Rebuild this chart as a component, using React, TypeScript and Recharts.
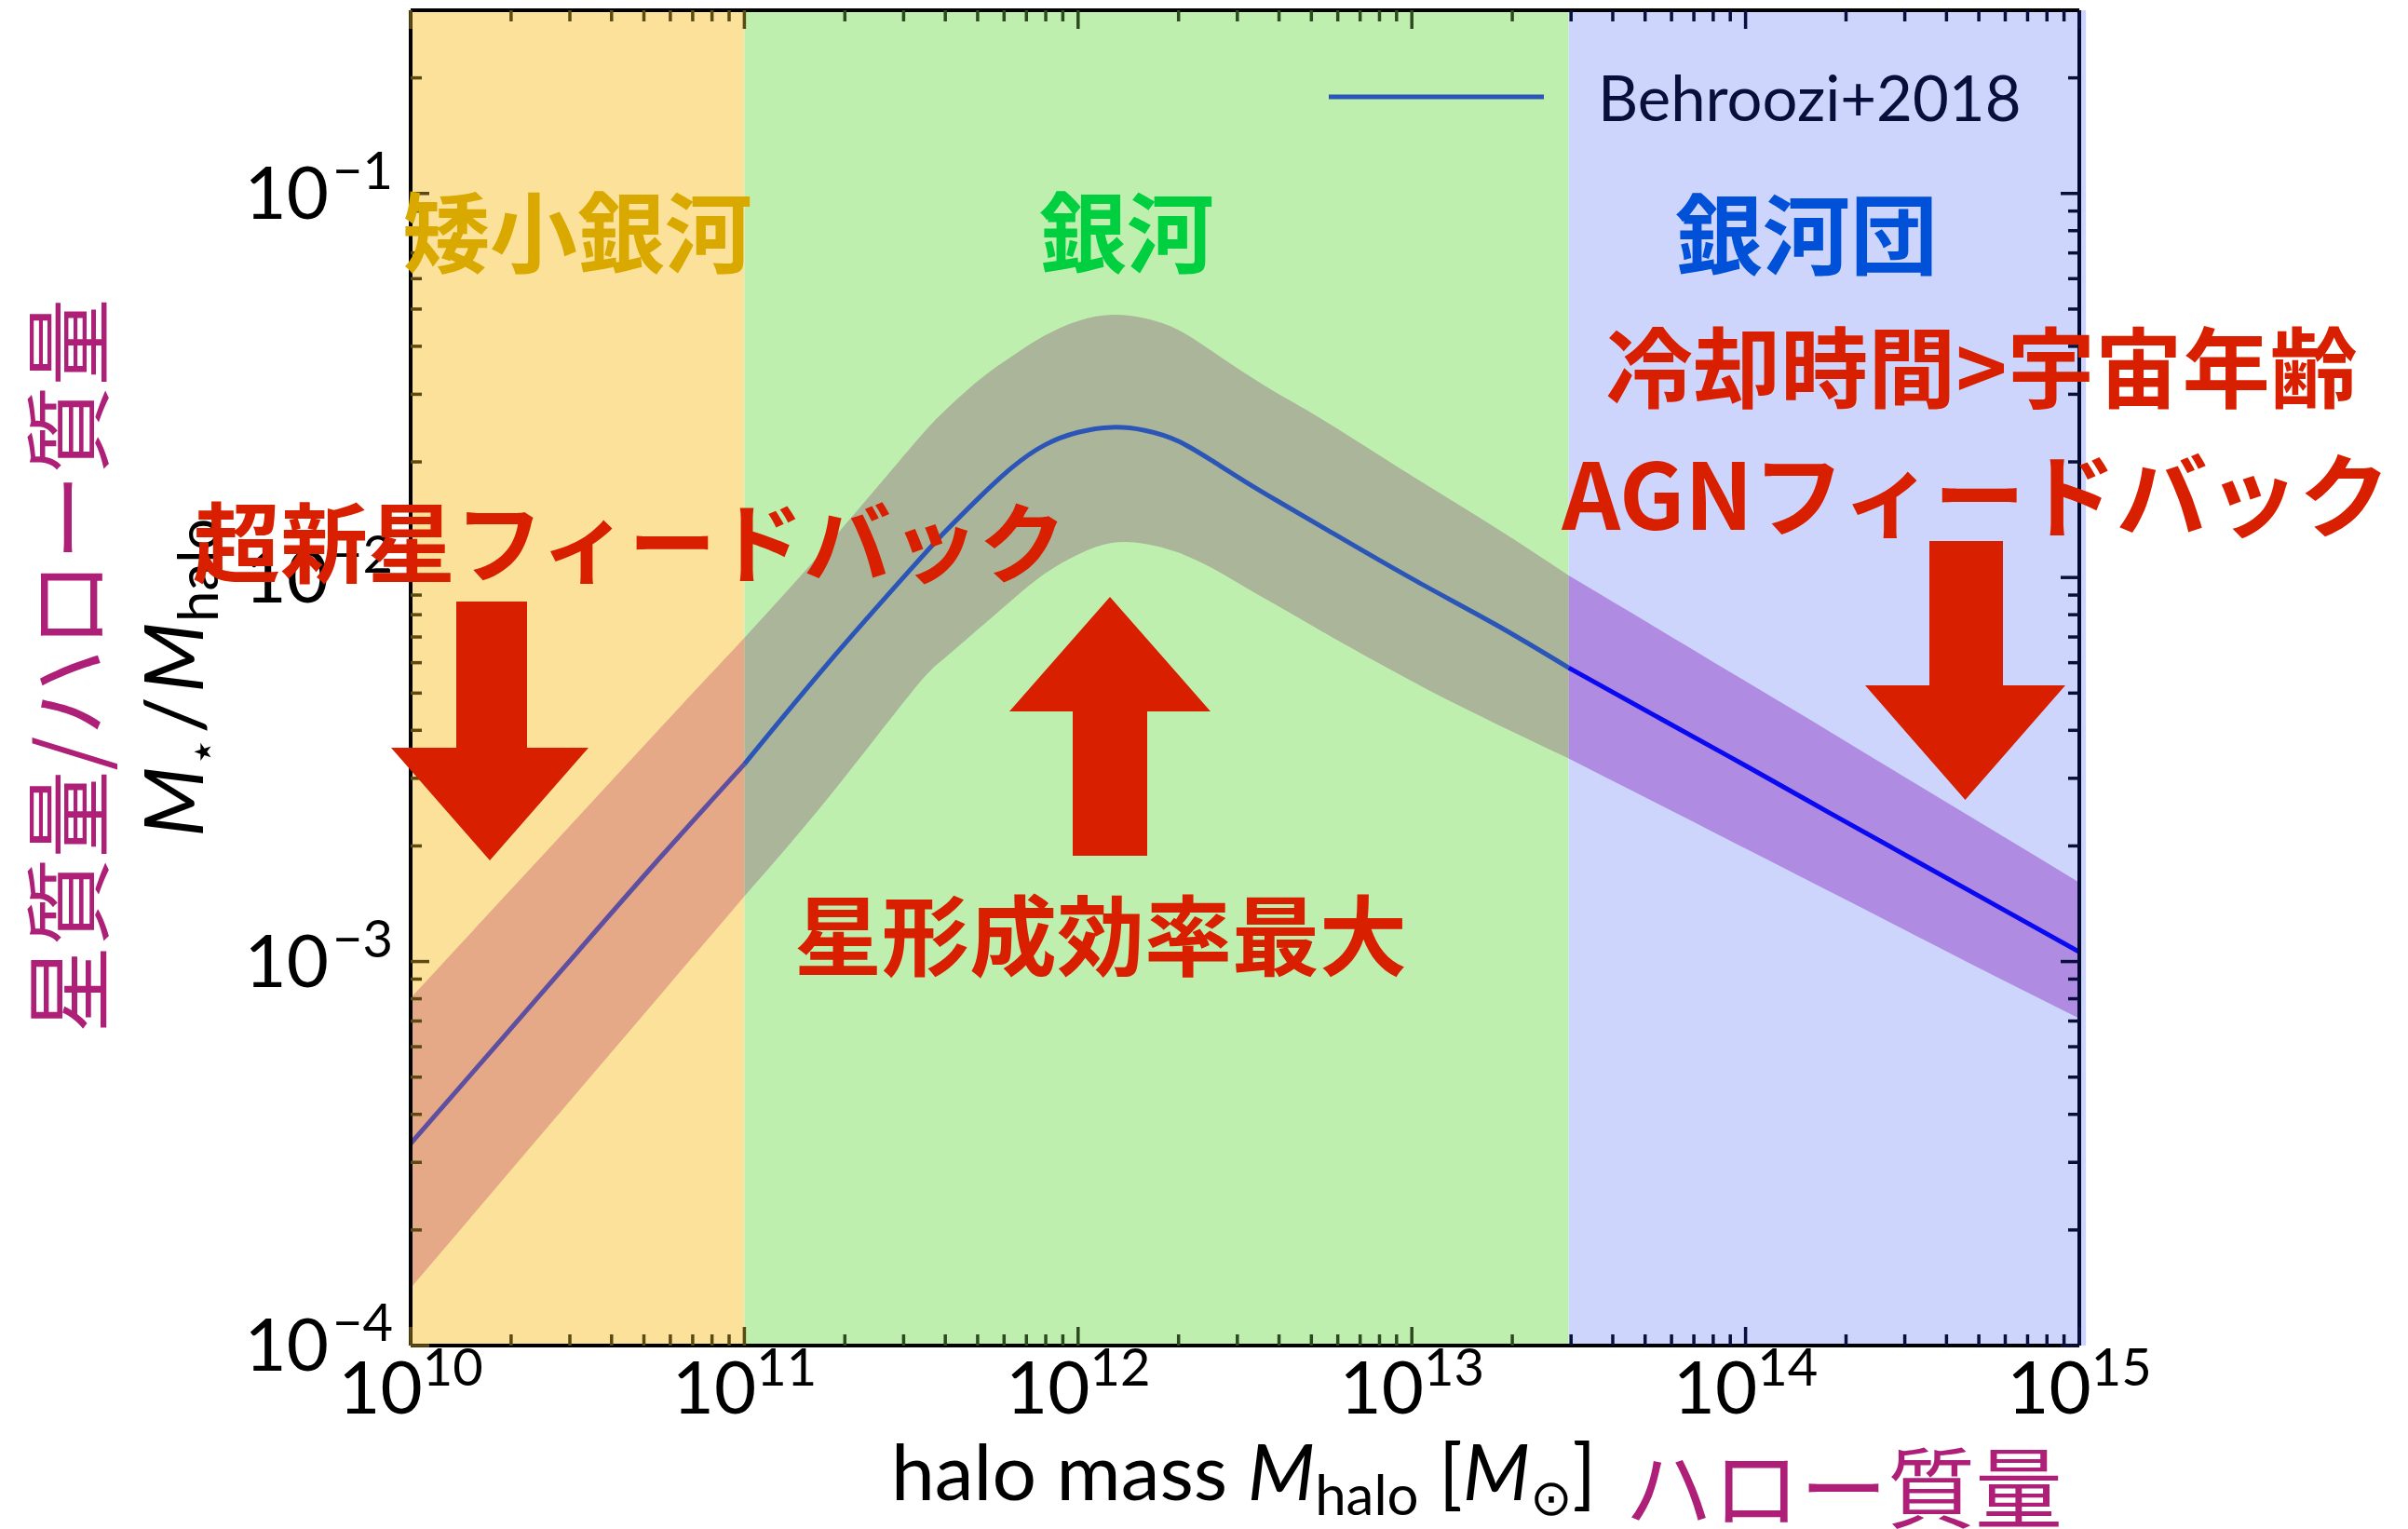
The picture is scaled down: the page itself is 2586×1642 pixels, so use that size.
import React from "react";
import { ComposedChart, Line, Area, XAxis, YAxis, ReferenceArea } from "recharts";

// 画面サイズとプロット領域
const W = 2586;
const H = 1642;
const PLOT_LEFT = 441;
const PLOT_RIGHT = 2233;
const PLOT_TOP = 11;
const PLOT_BOTTOM = 1445;
// 軸の太さ(1px)ぶんを差し引いたマージン
const MARGIN = { top: PLOT_TOP - 1, right: W - PLOT_RIGHT - 1, bottom: H - PLOT_BOTTOM - 1, left: PLOT_LEFT - 1 };

// log10(ハロー質量)
const logMass = [
  10.0, 10.25, 10.5, 10.75, 11.0, 11.25, 11.5, 11.6, 11.7, 11.8, 11.9, 12.0, 12.1, 12.2,
  12.3, 12.4, 12.5, 12.6, 12.75, 13.0, 13.25, 13.47, 13.75, 14.0, 14.25, 14.5, 14.75, 15.0,
];
// log10(M*/Mhalo) Behroozi+2018 中央値
const logRatio = [
  -3.474, -3.225, -2.975, -2.727, -2.486, -2.224, -1.977, -1.882, -1.795, -1.715, -1.655, -1.622,
  -1.609, -1.617, -1.645, -1.695, -1.75, -1.802, -1.878, -2.003, -2.122, -2.235, -2.37, -2.49,
  -2.612, -2.733, -2.854, -2.975,
];
// 上限・下限
const logUpper = [
  -3.095, -2.86, -2.625, -2.39, -2.157, -1.915, -1.66, -1.566, -1.488, -1.425, -1.37, -1.332,
  -1.316, -1.325, -1.355, -1.41, -1.468, -1.522, -1.598, -1.735, -1.87, -1.995, -2.14, -2.27,
  -2.4, -2.532, -2.663, -2.794,
];
const logLower = [
  -3.85, -3.595, -3.34, -3.085, -2.83, -2.575, -2.3, -2.21, -2.135, -2.06, -1.99, -1.94,
  -1.91, -1.912, -1.935, -1.975, -2.025, -2.075, -2.15, -2.27, -2.38, -2.471, -2.595, -2.706,
  -2.817, -2.928, -3.039, -3.148,
];

// 目盛り(10のべき)
const X_DECADES = [10, 11, 12, 13, 14, 15];
const Y_DECADES = [-4, -3, -2, -1];
const Y_MAX = 0.3;

// 領域: 矮小銀河 / 銀河 / 銀河団
const REGIONS = [
  { from: 10, to: 11, fill: "#FBE19A", band: "#E6A987", line: "#5E4FA0", tick: "#5B4A12" },
  { from: 11, to: 13.47, fill: "#BFEFAF", band: "#ABB59A", line: "#2B55B7", tick: "#2C4A20" },
  { from: 13.47, to: 15.02, fill: "#CDD5FD", band: "#B08BE2", line: "#0A0AF0", tick: "#0A0E3A" },
];

const rows = logMass.map((m, i) => {
  const row: Record<string, any> = { m };
  REGIONS.forEach((r, k) => {
    if (m >= r.from - 1e-9 && m <= r.to + 1e-9) {
      row[`line${k}`] = logRatio[i];
      row[`band${k}`] = [logLower[i], logUpper[i]];
    }
  });
  return row;
});

const xTicks: number[] = [];
X_DECADES.forEach((d) => {
  if (d === X_DECADES[X_DECADES.length - 1]) xTicks.push(d);
  else for (let k = 1; k <= 9; k++) xTicks.push(d + Math.log10(k));
});
const yTop = Math.log10(Y_MAX);
const yTicks: number[] = [];
Y_DECADES.forEach((d) => {
  for (let k = 1; k <= 9; k++) {
    const v = d + Math.log10(k);
    if (v < yTop - 1e-6) yTicks.push(v);
  }
});

const isMajor = (v: number) => Math.abs(v - Math.round(v)) < 1e-6;
const regionTick = (v: number) => {
  const r = REGIONS.find((g) => v <= g.to + 1e-3) || REGIONS[REGIONS.length - 1];
  return r.tick;
};

const NUM_FONT = "Lato, 'DejaVu Sans', sans-serif";
const JP_FONT = "'Noto Sans CJK JP', sans-serif";
const RED = "#D82000";
const PURPLE = "#AE1F78";

const BottomTick = (p: any) => {
  const v = p.payload.value;
  const major = isMajor(v);
  return (
    <g>
      <line x1={p.x} x2={p.x} y1={PLOT_BOTTOM} y2={PLOT_BOTTOM - (major ? 20 : 12)} stroke={regionTick(v)} strokeWidth={3.5} />
      {major && (
        <text x={p.x} y={1518} textAnchor="middle" fontFamily={NUM_FONT} fontSize={78} fill="#000">
          10
          <tspan dy={-30} fontSize={56}>{Math.round(v)}</tspan>
        </text>
      )}
    </g>
  );
};

const TopTick = (p: any) => {
  const v = p.payload.value;
  const major = isMajor(v);
  return (
    <line x1={p.x} x2={p.x} y1={PLOT_TOP} y2={PLOT_TOP + (major ? 20 : 12)} stroke={regionTick(v)} strokeWidth={3.5} />
  );
};

const LeftTick = (p: any) => {
  const v = p.payload.value;
  const major = isMajor(v);
  return (
    <g>
      <line x1={PLOT_LEFT} x2={PLOT_LEFT + (major ? 20 : 12)} y1={p.y} y2={p.y} stroke={REGIONS[0].tick} strokeWidth={3.5} />
      {major && (
        <text x={422} y={p.y + 27} textAnchor="end" fontFamily={NUM_FONT} fontSize={78} fill="#000">
          10
          <tspan dx={4} dy={-32} fontSize={56}>{"\u2212" + Math.abs(Math.round(v))}</tspan>
        </text>
      )}
    </g>
  );
};

const RightTick = (p: any) => {
  const v = p.payload.value;
  const major = isMajor(v);
  return (
    <line x1={PLOT_RIGHT} x2={PLOT_RIGHT - (major ? 20 : 12)} y1={p.y} y2={p.y} stroke={REGIONS[2].tick} strokeWidth={3.5} />
  );
};

// 矢印(注釈)
const arrowDown = (l: number, r: number, top: number, hl: number, hr: number, hy: number, tipY: number) =>
  `${l},${top} ${r},${top} ${r},${hy} ${hr},${hy} ${(hl + hr) / 2},${tipY} ${hl},${hy} ${l},${hy}`;
const arrowUp = (l: number, r: number, bottom: number, hl: number, hr: number, hy: number, tipY: number) =>
  `${l},${bottom} ${r},${bottom} ${r},${hy} ${hr},${hy} ${(hl + hr) / 2},${tipY} ${hl},${hy} ${l},${hy}`;

const Overlay = () => (
  <svg width={W} height={H} style={{ position: "absolute", left: 0, top: 0, pointerEvents: "none" }}>
    {/* 縦軸ラベル */}
    <text transform="translate(68,715) rotate(-90)" textAnchor="middle" dominantBaseline="central" fontFamily={JP_FONT} fontSize={94} fill={PURPLE}>
      星質量/ハロー質量
    </text>
    <text transform="translate(218,899) rotate(-90)" fontFamily={NUM_FONT} fontSize={88} fill="#000">
      <tspan fontStyle="italic">M</tspan>
      <tspan fontSize={50} dy={16} fontFamily="'DejaVu Sans', sans-serif">⋆</tspan>
      <tspan dy={-16} dx={4}>/</tspan>
      <tspan fontStyle="italic" dx={4}>M</tspan>
      <tspan fontSize={60} dy={16}>halo</tspan>
    </text>

    {/* 横軸ラベル */}
    <text x={957} y={1611} fontFamily={NUM_FONT} fontSize={84} fill="#000">
      halo mass <tspan fontStyle="italic">M</tspan>
      <tspan fontSize={60} dy={16}>halo</tspan>
      <tspan dy={-16}> [</tspan>
      <tspan fontStyle="italic">M</tspan>
      <tspan fontSize={54} dy={16} fontFamily="'DejaVu Sans', sans-serif">⊙</tspan>
      <tspan dy={-16}>]</tspan>
    </text>
    <text x={1745} y={1593} dominantBaseline="central" fontFamily={JP_FONT} fontSize={94} fill={PURPLE}>
      ハロー質量
    </text>

    {/* 凡例 */}
    <line x1={1427} x2={1658} y1={104} y2={104} stroke="#2B55B7" strokeWidth={5} />
    <text x={1716} y={130} fontFamily={NUM_FONT} fontSize={67} fill="#0A0E3A">
      Behroozi+2018
    </text>

    {/* 領域名と注釈 */}
    <g fontFamily={JP_FONT} fontWeight={700} fontSize={94} textAnchor="middle" dominantBaseline="central">
      <text x={620} y={245} fill="#D9A900">矮小銀河</text>
      <text x={1210} y={245} fill="#00CF40">銀河</text>
      <text x={1940} y={247} fill="#0050D8">銀河団</text>
      <text x={2128} y={390} fill={RED}>冷却時間&gt;宇宙年齢</text>
      <text x={2122} y={526} fill={RED} fontSize={98}>AGNフィードバック</text>
      <text x={676} y={578} fill={RED}>超新星フィードバック</text>
      <text x={1182} y={1000} fill={RED}>星形成効率最大</text>
    </g>

    {/* 矢印 */}
    <polygon points={arrowDown(490, 566, 646, 420, 632, 803, 924)} fill={RED} />
    <polygon points={arrowUp(1152, 1232, 919, 1084, 1300, 764, 641)} fill={RED} />
    <polygon points={arrowDown(2072, 2151, 581, 2003, 2218, 736, 859)} fill={RED} />
  </svg>
);

export default function App() {
  return (
    <div style={{ position: "absolute", left: 0, top: 0, width: W, height: H, background: "#fff" }}>
      <ComposedChart width={W} height={H} data={rows} margin={MARGIN}>
        {REGIONS.map((r, k) => (
          <ReferenceArea key={`span${k}`} xAxisId="b" yAxisId="l" x1={r.from} x2={r.to} fill={r.fill}
            fillOpacity={1} stroke="none" ifOverflow="visible" zIndex={-10} />
        ))}

        {REGIONS.map((r, k) => (
          <Area key={`band${k}`} xAxisId="b" yAxisId="l" dataKey={`band${k}`} type="natural" fill={r.band}
            fillOpacity={1} stroke="none" isAnimationActive={false} activeDot={false} />
        ))}
        {REGIONS.map((r, k) => (
          <Line key={`line${k}`} xAxisId="b" yAxisId="l" dataKey={`line${k}`} type="natural" stroke={r.line}
            strokeWidth={5} dot={false} activeDot={false} isAnimationActive={false} />
        ))}

        <XAxis xAxisId="b" dataKey="m" type="number" domain={[10, 15]} allowDataOverflow ticks={xTicks} interval={0}
          orientation="bottom" height={1} tickLine={false} tick={(p: any) => <BottomTick {...p} />}
          axisLine={{ stroke: "#000", strokeWidth: 4 }} />
        <XAxis xAxisId="t" dataKey="m" type="number" domain={[10, 15]} allowDataOverflow ticks={xTicks} interval={0}
          orientation="top" height={1} tickLine={false} tick={(p: any) => <TopTick {...p} />}
          axisLine={{ stroke: "#000", strokeWidth: 4 }} />
        <YAxis yAxisId="l" type="number" domain={[-4, yTop]} allowDataOverflow ticks={yTicks} interval={0}
          orientation="left" width={1} tickLine={false} tick={(p: any) => <LeftTick {...p} />}
          axisLine={{ stroke: "#000", strokeWidth: 4 }} />
        <YAxis yAxisId="r" type="number" domain={[-4, yTop]} allowDataOverflow ticks={yTicks} interval={0}
          orientation="right" width={1} tickLine={false} tick={(p: any) => <RightTick {...p} />}
          axisLine={{ stroke: "#00082E", strokeWidth: 4 }} />
      </ComposedChart>
      <Overlay />
    </div>
  );
}
